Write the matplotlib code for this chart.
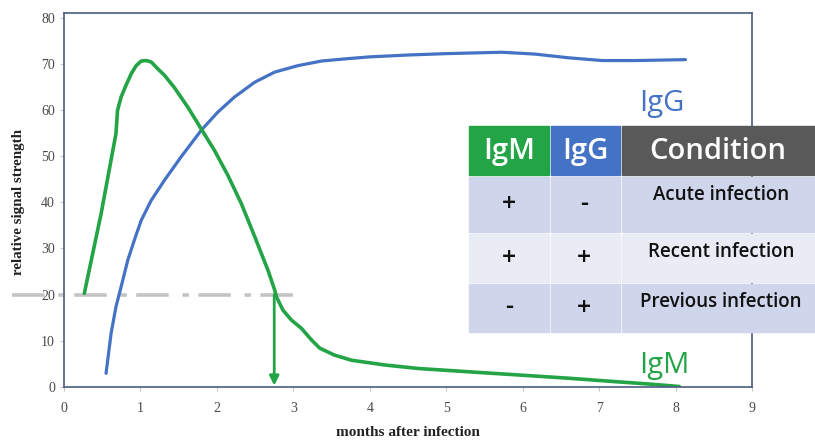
import matplotlib.pyplot as plt
from matplotlib.patches import Rectangle

# antibody curves (months after infection, relative signal strength)
igm_x = [0.266, 0.485, 0.68, 0.70, 0.747, 0.81, 0.878, 0.944, 1.01, 1.075, 1.14, 1.228,
         1.315, 1.446, 1.62, 1.795, 1.97, 2.145, 2.32, 2.494, 2.67, 2.756, 2.78, 2.866,
         2.975, 3.106, 3.237, 3.346, 3.54, 3.76, 4.2, 4.64, 5.29, 5.95, 6.6, 7.26, 7.69, 8.05]
igm_y = [20.3, 37.5, 54.9, 59.9, 62.8, 65.3, 67.8, 69.6, 70.6, 70.7, 70.4, 68.9,
         67.5, 64.8, 60.6, 55.9, 51.2, 45.8, 39.7, 32.6, 25.2, 21, 19.5, 16.6,
         14.5, 12.7, 10.2, 8.4, 6.9, 5.8, 4.76, 4.0, 3.3, 2.6, 1.9, 1.1, 0.6, 0.1]
igg_x = [0.55, 0.616, 0.68, 0.747, 0.835, 0.92, 1.01, 1.14, 1.315, 1.53, 1.795, 2.01,
         2.23, 2.494, 2.756, 3.06, 3.37, 3.7, 4.0, 4.5, 5.0, 5.73, 6.16, 6.6, 7.04,
         7.47, 8.13]
igg_y = [2.96, 11.6, 17.4, 21.7, 27.5, 31.8, 36.1, 40.4, 44.8, 49.8, 55.6, 59.5,
         62.8, 66, 68.2, 69.6, 70.6, 71.1, 71.5, 71.9, 72.2, 72.5, 72.1, 71.3, 70.7,
         70.7, 70.9]

threshold = 20
cutoff_month = 2.75
threshold_x = [-0.68, 3.05]

# interpretation table
headers = ["IgM", "IgG", "Condition"]
igm_status = ["+", "+", "-"]
igg_status = ["-", "+", "+"]
conditions = ["Acute infection", "Recent infection", "Previous infection"]

green = "#23a446"
blue = "#4472c4"
dark = "#595959"
row_fills = ["#cfd5ea", "#e9ebf5", "#cfd5ea"]

W, H = 815, 443
fig = plt.figure(figsize=(W / 100, H / 100), dpi=100)
ax = fig.add_axes([64 / W, 1 - 387 / H, (752 - 64) / W, (387 - 13) / H])

ax.plot(igg_x, igg_y, color=blue, lw=2.3, solid_capstyle="round", solid_joinstyle="round")
ax.plot(igm_x, igm_y, color=green, lw=2.6, solid_capstyle="round", solid_joinstyle="round")
ax.plot(threshold_x, [threshold, threshold], color="#c4c4c4", lw=2.6,
        dashes=(9, 3.8, 1.8, 2.6), clip_on=False, zorder=1)
ax.annotate("", xy=(cutoff_month, 0.3), xytext=(cutoff_month, threshold),
            arrowprops=dict(arrowstyle="-|>", color=green, lw=2, mutation_scale=14,
                            shrinkA=0, shrinkB=0))

ax.text(7.52, 59.7, "IgG", color=blue, fontsize=21, family="Open Sans", ha="left", va="baseline")
ax.text(7.52, 3.05, "IgM", color=green, fontsize=21, family="Open Sans", ha="left", va="baseline")

ax.set_xlim(0, 9)
ax.set_ylim(0, 81)
ax.set_xticks(range(0, 10))
ax.set_yticks(range(0, 81, 10))
for s in ax.spines.values():
    s.set_color("#4c5b82")
    s.set_linewidth(1.2)
ax.tick_params(colors="#c8c8c8", labelcolor="#4a4a4a", length=3, labelsize=10)
for lbl in ax.get_xticklabels() + ax.get_yticklabels():
    lbl.set_family("Liberation Serif")
ax.tick_params(axis="x", pad=8)
fig.text(408 / W, 1 - 433 / H, "months after infection", family="Liberation Serif",
         fontweight="bold", fontsize=11, color="#222222", ha="center", va="center")
fig.text(19 / W, 1 - 202 / H, "relative signal strength", family="Liberation Serif",
         fontweight="bold", fontsize=10.8, color="#222222", ha="center", va="center",
         rotation=90)

# table in pixel coordinates
tax = fig.add_axes([0, 0, 1, 1])
tax.set_xlim(0, W)
tax.set_ylim(H, 0)
tax.axis("off")
col_edges = [(469, 549), (551, 620), (622, 815)]
row_edges = [(126, 175), (177, 232), (234, 282), (284, 332)]
head_fills = [green, blue, dark]

y0, y1 = row_edges[0]
for (x0, x1), txt, fc in zip(col_edges, headers, head_fills):
    tax.add_patch(Rectangle((x0, y0), x1 - x0, y1 - y0, color=fc))
    cx = (x0 + x1) / 2 if txt != "Condition" else 718
    tax.text(cx, (y0 + y1) / 2 + 1, txt, color="white", fontsize=21,
             family="Open Sans", fontweight="semibold", ha="center", va="center")

for i, (m, g, c) in enumerate(zip(igm_status, igg_status, conditions)):
    y0, y1 = row_edges[i + 1]
    for (x0, x1) in col_edges:
        tax.add_patch(Rectangle((x0, y0), x1 - x0, y1 - y0, color=row_fills[i]))
    yc = (y0 + y1) / 2
    tax.text(509, yc, m, fontsize=18, family="Open Sans", fontweight="semibold",
             ha="center", va="center", color="#111111")
    tax.text(584, yc, g, fontsize=18, family="Open Sans", fontweight="semibold",
             ha="center", va="center", color="#111111")
    tax.text(721, y0 + 18, c, fontsize=13.5, family="Open Sans", fontweight="semibold",
             ha="center", va="center", color="#111111")

fig.savefig("out.png", dpi=100)
